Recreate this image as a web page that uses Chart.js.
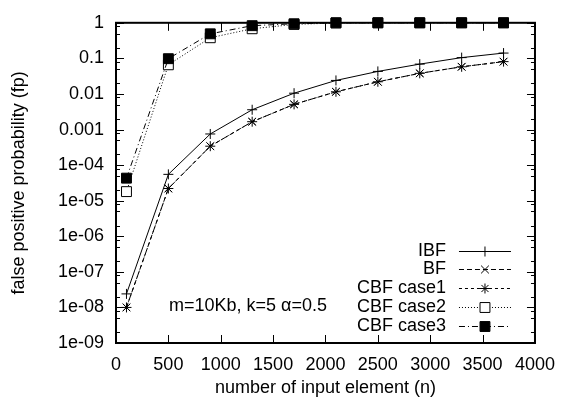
<!DOCTYPE html>
<html><head><meta charset="utf-8">
<script src="https://cdn.jsdelivr.net/npm/chart.js@4/dist/chart.umd.min.js"></script>
<style>html,body{margin:0;padding:0;background:#fff}#wrap{width:566px;height:399px}</style>
</head><body><div id="wrap"><canvas id="c" width="566" height="399"></canvas></div>
<script>
// ---- data ----
const xValues = [100, 500, 900, 1300, 1700, 2100, 2500, 2900, 3300, 3700];
const ibf     = [2.4e-8, 5.5e-5, 7.5e-4, 3.6e-3, 0.0105, 0.024, 0.043, 0.069, 0.105, 0.141];
const bf      = [1.0e-8, 2.2e-5, 3.4e-4, 1.66e-3, 5.1e-3, 0.0115, 0.022, 0.038, 0.058, 0.081];
const cbf1    = [1.0e-8, 2.2e-5, 3.4e-4, 1.66e-3, 5.1e-3, 0.0115, 0.022, 0.038, 0.058, 0.081];
const cbf2    = [1.8e-5, 0.066, 0.38, 0.68, 0.9, 0.99, 1, 1, 1, 1];
const cbf3    = [4.3e-5, 0.098, 0.49, 0.83, 0.94, 1, 1, 1, 1, 1];
const seriesNames = ['IBF', 'BF', 'CBF case1', 'CBF case2', 'CBF case3'];
const xTickValues = [0, 500, 1000, 1500, 2000, 2500, 3000, 3500, 4000];
const yTickValues = [1e-9, 1e-8, 1e-7, 1e-6, 1e-5, 1e-4, 1e-3, 1e-2, 1e-1, 1];
const yTickLabels = ['1e-09', '1e-08', '1e-07', '1e-06', '1e-05', '1e-04', '0.001', '0.01', '0.1', '1'];
const yMinorFactors = [2, 5, 8];
const xTitle = 'number of input element (n)';
const yTitle = 'false positive probability (fp)';
const noteText = 'm=10Kb, k=5 \u03b1=0.5';

// ---- styles ----
const FONT = {family: "'Liberation Sans', Arial, sans-serif", size: 18};
const TITLEFONT = {family: "'Liberation Sans', Arial, sans-serif", size: 18, lineHeight: 1.0};
const FONTSTR = "18px 'Liberation Sans', Arial, sans-serif";
const seriesData = [ibf, bf, cbf1, cbf2, cbf3];
const styles = [
  {dash: [], ps: 'cross', r: 5, fill: '#000'},
  {dash: [5, 3], ps: 'crossRot', r: 5.5, fill: '#000'},
  {dash: [3, 3], ps: 'star', r: 5, fill: '#000'},
  {dash: [1, 2], ps: 'rect', r: 7, fill: '#fff'},
  {dash: [6, 3, 1, 3], ps: 'rect', r: 7, fill: '#000'}
];

const datasets = seriesNames.map((name, i) => ({
  label: name,
  data: xValues.map((x, j) => ({x: x, y: seriesData[i][j]})),
  borderColor: '#000',
  backgroundColor: styles[i].fill,
  borderWidth: 1,
  borderDash: styles[i].dash,
  pointStyle: styles[i].ps,
  pointRadius: styles[i].r,
  pointBorderColor: '#000',
  pointBackgroundColor: styles[i].fill,
  pointBorderWidth: 1,
  tension: 0,
  fill: false,
  clip: false,
  order: 4 - i
}));

const framePlugin = {
  id: 'frame',
  beforeDatasetsDraw(chart) {
    const {ctx, chartArea: a, scales} = chart;
    ctx.save();
    ctx.strokeStyle = '#000';
    ctx.lineWidth = 1;
    ctx.setLineDash([]);
    ctx.beginPath();
    xTickValues.forEach(v => {
      const px = Math.round(scales.x.getPixelForValue(v)) + 0.5;
      ctx.moveTo(px, a.bottom); ctx.lineTo(px, a.bottom - 8);
      ctx.moveTo(px, a.top); ctx.lineTo(px, a.top + 8);
    });
    yTickValues.forEach((v, k) => {
      const py = Math.round(scales.y.getPixelForValue(v)) + 0.5;
      ctx.moveTo(a.left, py); ctx.lineTo(a.left + 8, py);
      ctx.moveTo(a.right, py); ctx.lineTo(a.right - 8, py);
      if (k < yTickValues.length - 1) {
        yMinorFactors.forEach(f => {
          const pm = Math.round(scales.y.getPixelForValue(v * f)) + 0.5;
          ctx.moveTo(a.left, pm); ctx.lineTo(a.left + 4, pm);
          ctx.moveTo(a.right, pm); ctx.lineTo(a.right - 4, pm);
        });
      }
    });
    ctx.stroke();
    ctx.lineWidth = 2;
    ctx.strokeRect(a.left, a.top, a.right - a.left, a.bottom - a.top);
    ctx.restore();
  },
  afterDraw(chart) {
    const {ctx, chartArea: a} = chart;
    ctx.save();
    ctx.font = FONTSTR;
    ctx.fillStyle = '#000';
    ctx.textBaseline = 'middle';
    ctx.textAlign = 'left';
    ctx.fillText(noteText, a.left + 53, a.bottom - 37);
    const rowH = 18.75;
    const y0 = a.bottom - 92.4;
    chart.data.datasets.forEach((ds, i) => {
      const y = y0 + i * rowH;
      ctx.textAlign = 'right';
      ctx.fillStyle = '#000';
      ctx.fillText(ds.label, a.right - 89, y);
      ctx.beginPath();
      ctx.setLineDash(ds.borderDash);
      ctx.lineWidth = 1;
      ctx.strokeStyle = '#000';
      ctx.moveTo(a.right - 76, Math.round(y) + 0.5);
      ctx.lineTo(a.right - 24, Math.round(y) + 0.5);
      ctx.stroke();
      ctx.setLineDash([]);
      ctx.fillStyle = ds.pointBackgroundColor;
      ctx.strokeStyle = '#000';
      Chart.helpers.drawPoint(ctx, {pointStyle: ds.pointStyle, radius: ds.pointRadius, rotation: 0, borderWidth: 1}, a.right - 50, Math.round(y) + 0.5);
    });
    ctx.restore();
  }
};

new Chart(document.getElementById('c'), {
  type: 'line',
  data: {datasets: datasets},
  plugins: [framePlugin],
  options: {
    responsive: false,
    animation: false,
    layout: {padding: {top: 18, right: 23, left: 0, bottom: 0}},
    plugins: {legend: {display: false}, tooltip: {enabled: false}},
    scales: {
      x: {
        type: 'linear', min: 0, max: 4000,
        afterBuildTicks: s => { s.ticks = xTickValues.map(v => ({value: v})); },
        afterFit: s => { s.height = 56; },
        ticks: {font: FONT, color: '#000', padding: 11, autoSkip: false, maxRotation: 0,
                callback: v => String(v)},
        grid: {display: false, drawTicks: false},
        border: {display: false},
        title: {display: true, text: xTitle, font: TITLEFONT, color: '#000', padding: {top: 0, bottom: 1.5}}
      },
      y: {
        type: 'logarithmic', min: 1e-9, max: 1,
        afterBuildTicks: s => { s.ticks = yTickValues.map(v => ({value: v})); },
        afterFit: s => { s.width = 116; },
        ticks: {font: FONT, color: '#000', padding: 12, autoSkip: false,
                callback: v => yTickLabels[yTickValues.indexOf(v)]},
        grid: {display: false, drawTicks: false},
        border: {display: false},
        title: {display: true, text: yTitle, font: FONT, color: '#000', padding: {top: 8, bottom: 0}}
      }
    }
  }
});
</script>
</body></html>
